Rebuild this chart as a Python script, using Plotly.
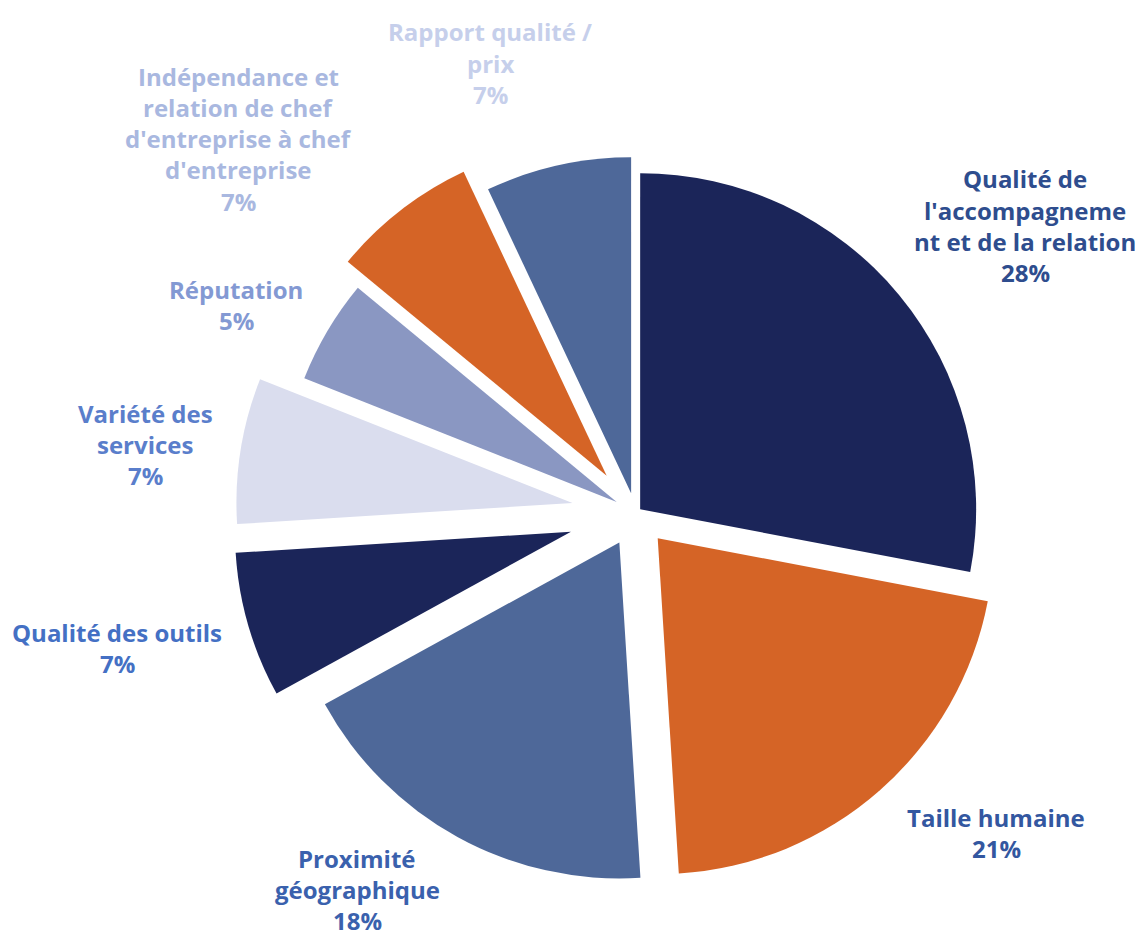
import plotly.graph_objects as go

# ---- data ----
categories = [
    "Qualité de l'accompagnement et de la relation",
    "Taille humaine",
    "Proximité géographique",
    "Qualité des outils",
    "Variété des services",
    "Réputation",
    "Indépendance et relation de chef d'entreprise à chef d'entreprise",
    "Rapport qualité / prix",
]
values = [28, 21, 18, 7, 7, 5, 7, 7]
label_wrapped = [
    "Qualité de<br>l'accompagneme<br>nt et de la relation",
    "Taille humaine",
    "Proximité<br>géographique",
    "Qualité des outils",
    "Variété des<br>services",
    "Réputation",
    "Indépendance et<br>relation de chef<br>d'entreprise à chef<br>d'entreprise",
    "Rapport qualité /<br>prix",
]

# ---- styles / layout ----
OFF = 8  # default page body margin
W, H = 1143 - OFF, 936 - OFF
slice_colors = ["#1B2559", "#D56426", "#4E6899", "#1B2559",
                "#DADDEE", "#8A97C2", "#D56426", "#4E6899"]
label_colors = ["#2E4D8E", "#3357A0", "#3A61AD", "#4470C4",
                "#5A7ECB", "#8399D3", "#A9B8E0", "#C6CFEB"]
pulls = [0.018, 0.10, 0.10, 0.20, 0.19, 0.065, 0.14, 0.06]
# label block in screenshot px: (center x, first line center y)
label_pos = [(1025, 179), (996, 817), (357, 858), (117, 632),
             (145, 413), (236, 289), (238, 76), (490, 32)]
line_step = 31.3

R = 336
cx, cy = 635.5 - OFF, 513 - OFF
half = R * (1 + max(pulls))
dom_x = [(cx - half) / W, (cx + half) / W]
dom_y = [1 - (cy + half) / H, 1 - (cy - half) / H]

fig = go.Figure(go.Pie(
    labels=categories,
    values=values,
    sort=False,
    direction="clockwise",
    rotation=0,
    pull=pulls,
    marker=dict(colors=slice_colors, line=dict(width=0)),
    textinfo="none",
    hoverinfo="label+percent",
    domain=dict(x=dom_x, y=dom_y),
    showlegend=False,
))

annotations = []
for i, (txt, v) in enumerate(zip(label_wrapped, values)):
    lines = txt.split("<br>") + [f"{v}%"]
    x0, y0 = label_pos[i]
    for j, ln in enumerate(lines):
        annotations.append(dict(
            text=ln, x=(x0 - OFF) / W, y=1 - (y0 - OFF + j * line_step) / H,
            xref="paper", yref="paper", xanchor="center", yanchor="middle",
            showarrow=False, borderpad=0,
            font=dict(family="Open Sans", size=24, color=label_colors[i], weight="bold"),
        ))

fig.update_layout(
    width=W, height=H,
    margin=dict(l=0, r=0, t=0, b=0),
    paper_bgcolor="white", plot_bgcolor="white",
    annotations=annotations,
)

fig.write_html("out.html")
